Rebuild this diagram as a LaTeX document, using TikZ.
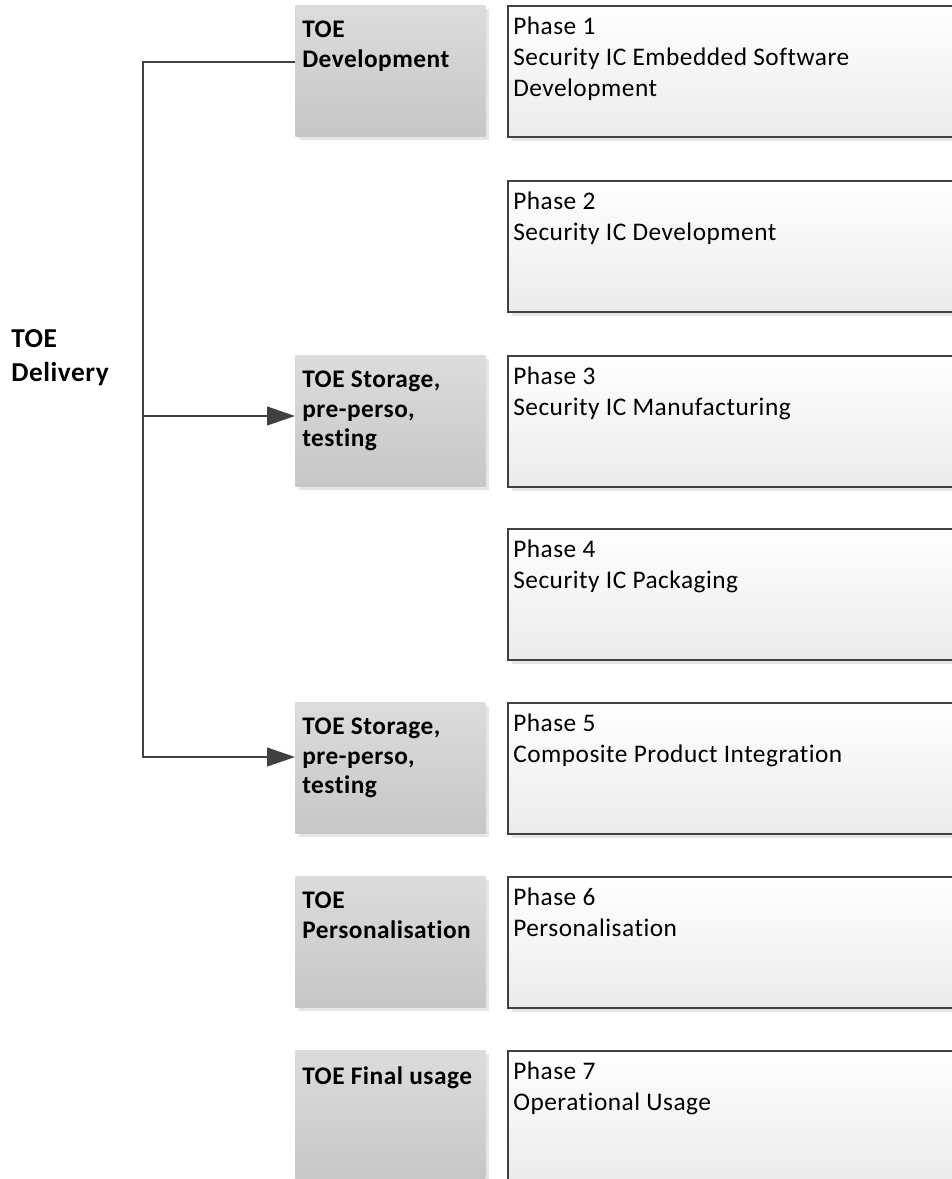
\documentclass[tikz,border=0pt]{standalone}
\usepackage{fontspec}
\setmainfont[Ligatures=NoCommon, LetterSpace=2]{Carlito}
\usetikzlibrary{arrows.meta,shadows,calc}
\definecolor{lineC}{HTML}{404040}
\definecolor{greyTop}{HTML}{DCDCDC}
\definecolor{greyBot}{HTML}{C6C6C6}
\definecolor{phaseBot}{HTML}{EBEBEB}
\begin{document}
\begin{tikzpicture}[x=0.75pt,y=-0.75pt,
  greybox/.style={rectangle, anchor=north west, inner sep=0pt,
    minimum width=142.5pt, minimum height=98.25pt,
    top color=greyTop, bottom color=greyBot, draw=none,
    drop shadow={shadow xshift=3pt, shadow yshift=-3pt, opacity=0.25, fill=black!40}},
  phasebox/.style={rectangle, anchor=north west, inner sep=0pt,
    minimum width=380pt, minimum height=98.25pt,
    top color=white, bottom color=phaseBot, draw=lineC, line width=1.3pt,
    drop shadow={shadow xshift=3pt, shadow yshift=-3pt, opacity=0.25, fill=black!40}},
  gtext/.style={anchor=north west, inner sep=0pt, align=left,
    font=\bfseries\fontsize{19}{22}\selectfont},
  ptext/.style={anchor=north west, inner sep=0pt, align=left,
    font=\fontsize{19}{23}\selectfont},
  conn/.style={draw=lineC, line width=1.6pt},
  tip/.style={-{Triangle[length=21pt,width=14pt]}}
]
\useasboundingbox (0,0) rectangle (952,1179);
\clip (0,0) rectangle (952,1179);

% grey boxes (TOE stages)
\node[greybox] (g1) at (295,5) {};
\node[greybox] (g3) at (295,355) {};
\node[greybox] (g5) at (295,702) {};
\node[greybox] (g6) at (295,876) {};
\node[greybox] (g7) at (295,1050) {};

\node[gtext] (tg1) at ($(g1.north west)+(7,16)$) {TOE\\Development};
\node[gtext] (tg3) at ($(g3.north west)+(7,16)$) {TOE Storage,\\pre-perso,\\testing};
\node[gtext] (tg5) at ($(g5.north west)+(7,16)$) {TOE Storage,\\pre-perso,\\testing};
\node[gtext] (tg6) at ($(g6.north west)+(7,16)$) {TOE\\Personalisation};
\node[gtext] (tg7) at ($(g7.north west)+(7,16)$) {TOE Final usage};

% phase boxes
\node[phasebox] (p1) at (507,5) {};
\node[phasebox] (p2) at (507,180) {};
\node[phasebox] (p3) at (507,355) {};
\node[phasebox] (p4) at (507,528) {};
\node[phasebox] (p5) at (507,702) {};
\node[phasebox] (p6) at (507,876) {};
\node[phasebox] (p7) at (507,1050) {};

\node[ptext] (tp1) at ($(p1.north west)+(6,12)$) {Phase 1\\Security IC Embedded Software\\Development};
\node[ptext] (tp2) at ($(p2.north west)+(6,12)$) {Phase 2\\Security IC Development};
\node[ptext] (tp3) at ($(p3.north west)+(6,12)$) {Phase 3\\Security IC Manufacturing};
\node[ptext] (tp4) at ($(p4.north west)+(6,12)$) {Phase 4\\Security IC Packaging};
\node[ptext] (tp5) at ($(p5.north west)+(6,12)$) {Phase 5\\Composite Product Integration};
\node[ptext] (tp6) at ($(p6.north west)+(6,12)$) {Phase 6\\Personalisation};
\node[ptext] (tp7) at ($(p7.north west)+(6,12)$) {Phase 7\\Operational Usage};

% TOE Delivery label
\node[gtext, font=\bfseries\fontsize{20.5}{26}\selectfont] (deliv) at (11,329) {TOE\\Delivery};

% connectors
\coordinate (bus) at (143,0);
\coordinate (c1) at ($(g1.north west)+(0,57)$);
\coordinate (c3) at ($(g3.north west)+(0,61)$);
\coordinate (c5) at ($(g5.north west)+(0,55)$);
\draw[conn, tip] (c1) -- (c1-|bus) -- (c5-|bus) -- (c5);
\draw[conn, tip] (c3-|bus) -- (c3);
\end{tikzpicture}
\end{document}
